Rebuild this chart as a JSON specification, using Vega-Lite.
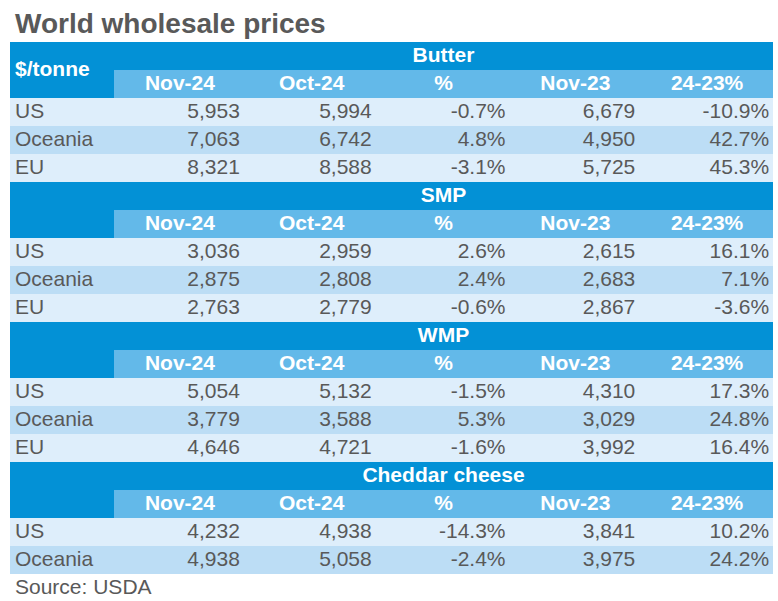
{
  "$schema": "https://vega.github.io/schema/vega-lite/v6.json",
  "padding": {"left": 10, "top": 11, "right": 5, "bottom": 0},
  "background": "white",
  "title": {"text": "World wholesale prices", "anchor": "start", "fontSize": 28, "font": "Liberation Sans", "fontWeight": "bold", "color": "#595959", "offset": 3, "dx": 5},
  "datasets": {
    "table": [
      {"row": 0, "kind": "section", "label": "Butter"},
      {"row": 1, "kind": "sub", "unit": "$/tonne", "nov24": "Nov-24", "oct24": "Oct-24", "pct": "%", "nov23": "Nov-23", "yoy": "24-23%"},
      {"row": 2, "kind": "data", "label": "US", "nov24": 5953, "oct24": 5994, "pct": -0.007, "nov23": 6679, "yoy": -0.109},
      {"row": 3, "kind": "data", "label": "Oceania", "nov24": 7063, "oct24": 6742, "pct": 0.048, "nov23": 4950, "yoy": 0.427},
      {"row": 4, "kind": "data", "label": "EU", "nov24": 8321, "oct24": 8588, "pct": -0.031, "nov23": 5725, "yoy": 0.453},
      {"row": 5, "kind": "section", "label": "SMP"},
      {"row": 6, "kind": "sub", "nov24": "Nov-24", "oct24": "Oct-24", "pct": "%", "nov23": "Nov-23", "yoy": "24-23%"},
      {"row": 7, "kind": "data", "label": "US", "nov24": 3036, "oct24": 2959, "pct": 0.026, "nov23": 2615, "yoy": 0.161},
      {"row": 8, "kind": "data", "label": "Oceania", "nov24": 2875, "oct24": 2808, "pct": 0.024, "nov23": 2683, "yoy": 0.071},
      {"row": 9, "kind": "data", "label": "EU", "nov24": 2763, "oct24": 2779, "pct": -0.006, "nov23": 2867, "yoy": -0.036},
      {"row": 10, "kind": "section", "label": "WMP"},
      {"row": 11, "kind": "sub", "nov24": "Nov-24", "oct24": "Oct-24", "pct": "%", "nov23": "Nov-23", "yoy": "24-23%"},
      {"row": 12, "kind": "data", "label": "US", "nov24": 5054, "oct24": 5132, "pct": -0.015, "nov23": 4310, "yoy": 0.173},
      {"row": 13, "kind": "data", "label": "Oceania", "nov24": 3779, "oct24": 3588, "pct": 0.053, "nov23": 3029, "yoy": 0.248},
      {"row": 14, "kind": "data", "label": "EU", "nov24": 4646, "oct24": 4721, "pct": -0.016, "nov23": 3992, "yoy": 0.164},
      {"row": 15, "kind": "section", "label": "Cheddar cheese"},
      {"row": 16, "kind": "sub", "nov24": "Nov-24", "oct24": "Oct-24", "pct": "%", "nov23": "Nov-23", "yoy": "24-23%"},
      {"row": 17, "kind": "data", "label": "US", "nov24": 4232, "oct24": 4938, "pct": -0.143, "nov23": 3841, "yoy": 0.102},
      {"row": 18, "kind": "data", "label": "Oceania", "nov24": 4938, "oct24": 5058, "pct": -0.024, "nov23": 3975, "yoy": 0.242},
      {"row": 19, "kind": "source", "label": "Source: USDA"}
    ]
  },
  "data": {"name": "table"},
  "spacing": 0,
  "bounds": "flush",
  "config": {
    "view": {"stroke": null},
    "locale": {"number": {"decimal": ".", "thousands": ",", "grouping": [3], "currency": ["$", ""], "minus": "-"}},
    "text": {"font": "Liberation Sans", "fontSize": 21, "color": "#595959"}
  },
  "hconcat": [
    {
      "width": 104,
      "height": 560,
      "layer": [
        {
          "transform": [{"filter": "datum.kind === 'section' || datum.kind === 'sub'"}],
          "mark": {"type": "rect", "color": "#0391D6"},
          "encoding": {
            "y": {"field": "row", "type": "ordinal", "axis": null, "scale": {"domain": [0,1,2,3,4,5,6,7,8,9,10,11,12,13,14,15,16,17,18,19], "paddingInner": 0, "paddingOuter": 0}}
          }
        },
        {
          "transform": [{"filter": "datum.kind === 'data'"}],
          "mark": {"type": "rect"},
          "encoding": {
            "y": {"field": "row", "type": "ordinal", "axis": null, "scale": {"domain": [0,1,2,3,4,5,6,7,8,9,10,11,12,13,14,15,16,17,18,19], "paddingInner": 0, "paddingOuter": 0}},
            "color": {"condition": {"test": "datum.label === 'Oceania'", "value": "#BCDDF5"}, "value": "#DEEEFB"}
          }
        },
        {
          "transform": [{"filter": "datum.kind === 'data' || datum.kind === 'source'"}],
          "mark": {"type": "text", "align": "left", "baseline": "middle", "dx": 5},
          "encoding": {
            "y": {"field": "row", "type": "ordinal", "axis": null, "scale": {"domain": [0,1,2,3,4,5,6,7,8,9,10,11,12,13,14,15,16,17,18,19], "paddingInner": 0, "paddingOuter": 0}},
            "x": {"value": 0},
            "text": {"field": "label"}
          }
        },
        {
          "transform": [{"filter": "datum.unit"}],
          "mark": {"type": "text", "align": "left", "baseline": "middle", "dx": 5, "fontWeight": "bold", "color": "white"},
          "encoding": {
            "y": {"field": "row", "type": "ordinal", "axis": null, "bandPosition": 0, "scale": {"domain": [0,1,2,3,4,5,6,7,8,9,10,11,12,13,14,15,16,17,18,19], "paddingInner": 0, "paddingOuter": 0}},
            "x": {"value": 0},
            "text": {"field": "unit"}
          }
        }
      ]
    },
    {
      "width": 659,
      "height": 560,
      "layer": [
        {
          "transform": [{"filter": "datum.kind === 'section'"}],
          "mark": {"type": "rect", "color": "#0391D6"},
          "encoding": {
            "y": {"field": "row", "type": "ordinal", "axis": null, "scale": {"domain": [0,1,2,3,4,5,6,7,8,9,10,11,12,13,14,15,16,17,18,19], "paddingInner": 0, "paddingOuter": 0}}
          }
        },
        {
          "transform": [{"filter": "datum.kind === 'sub'"}],
          "mark": {"type": "rect", "color": "#63B9E9"},
          "encoding": {
            "y": {"field": "row", "type": "ordinal", "axis": null, "scale": {"domain": [0,1,2,3,4,5,6,7,8,9,10,11,12,13,14,15,16,17,18,19], "paddingInner": 0, "paddingOuter": 0}}
          }
        },
        {
          "transform": [{"filter": "datum.kind === 'data'"}],
          "mark": {"type": "rect"},
          "encoding": {
            "y": {"field": "row", "type": "ordinal", "axis": null, "scale": {"domain": [0,1,2,3,4,5,6,7,8,9,10,11,12,13,14,15,16,17,18,19], "paddingInner": 0, "paddingOuter": 0}},
            "color": {"condition": {"test": "datum.label === 'Oceania'", "value": "#BCDDF5"}, "value": "#DEEEFB"}
          }
        },
        {
          "transform": [{"filter": "datum.kind === 'section'"}],
          "mark": {"type": "text", "align": "center", "baseline": "middle", "fontWeight": "bold", "color": "white"},
          "encoding": {
            "y": {"field": "row", "type": "ordinal", "axis": null, "scale": {"domain": [0,1,2,3,4,5,6,7,8,9,10,11,12,13,14,15,16,17,18,19], "paddingInner": 0, "paddingOuter": 0}},
            "text": {"field": "label"}
          }
        },
        {
          "transform": [{"filter": "datum.kind === 'sub'"}, {"fold": ["nov24", "oct24", "pct", "nov23", "yoy"], "as": ["col", "value"]}],
          "mark": {"type": "text", "align": "center", "baseline": "middle", "fontWeight": "bold", "color": "white"},
          "encoding": {
            "y": {"field": "row", "type": "ordinal", "axis": null, "scale": {"domain": [0,1,2,3,4,5,6,7,8,9,10,11,12,13,14,15,16,17,18,19], "paddingInner": 0, "paddingOuter": 0}},
            "x": {"field": "col", "type": "nominal", "axis": null, "scale": {"domain": ["nov24", "oct24", "pct", "nov23", "yoy"], "paddingInner": 0, "paddingOuter": 0}},
            "text": {"field": "value"}
          }
        },
        {
          "transform": [{"filter": "datum.kind === 'data'"}, {"fold": ["nov24", "oct24", "nov23"], "as": ["col", "value"]}],
          "mark": {"type": "text", "align": "right", "baseline": "middle", "dx": 60},
          "encoding": {
            "y": {"field": "row", "type": "ordinal", "axis": null, "scale": {"domain": [0,1,2,3,4,5,6,7,8,9,10,11,12,13,14,15,16,17,18,19], "paddingInner": 0, "paddingOuter": 0}},
            "x": {"field": "col", "type": "nominal", "axis": null, "scale": {"domain": ["nov24", "oct24", "pct", "nov23", "yoy"], "paddingInner": 0, "paddingOuter": 0}},
            "text": {"field": "value", "type": "quantitative", "format": ","}
          }
        },
        {
          "transform": [{"filter": "datum.kind === 'data'"}, {"fold": ["pct", "yoy"], "as": ["col", "value"]}],
          "mark": {"type": "text", "align": "right", "baseline": "middle", "dx": 62},
          "encoding": {
            "y": {"field": "row", "type": "ordinal", "axis": null, "scale": {"domain": [0,1,2,3,4,5,6,7,8,9,10,11,12,13,14,15,16,17,18,19], "paddingInner": 0, "paddingOuter": 0}},
            "x": {"field": "col", "type": "nominal", "axis": null, "scale": {"domain": ["nov24", "oct24", "pct", "nov23", "yoy"], "paddingInner": 0, "paddingOuter": 0}},
            "text": {"field": "value", "type": "quantitative", "format": ".1%"}
          }
        }
      ]
    }
  ]
}
